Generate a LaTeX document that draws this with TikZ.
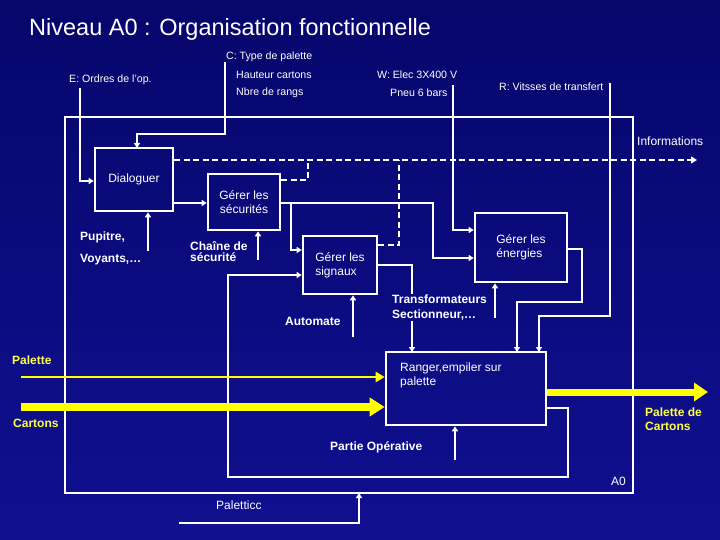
\documentclass[tikz,border=0pt]{standalone}
\usepackage{fontspec}
\setmainfont{Liberation Sans}
\usetikzlibrary{arrows.meta}
\definecolor{bgtop}{RGB}{6,6,108}
\definecolor{bgbot}{RGB}{16,16,145}
\definecolor{bgmid}{RGB}{11,11,128}
\definecolor{ylw}{RGB}{255,255,0}
\definecolor{ytxt}{RGB}{255,255,70}
\tikzset{
  box/.style={draw=white, line width=2.6pt, inner sep=0pt},
  ln/.style={draw=white, line width=1.4pt},
  arr/.style={ln, -{Triangle[length=5pt,width=6pt]}},
  dsh/.style={draw=white, line width=1.7pt, dash pattern=on 6pt off 3.5pt},
  lbl/.style={text=white, font=\fontsize{10.6}{12}\selectfont, inner sep=0pt, anchor=west},
  btxt/.style={text=white, font=\fontsize{12}{14}\selectfont, inner sep=0pt},
  bl/.style={text=white, font=\bfseries\fontsize{12}{14}\selectfont, inner sep=0pt, anchor=west, align=left},
  yl/.style={text=ytxt, font=\bfseries\fontsize{12}{14}\selectfont, inner sep=0pt, anchor=west, align=left},
  pl/.style={text=white, font=\fontsize{12}{14}\selectfont, inner sep=0pt, anchor=west},
}
\begin{document}
\begin{tikzpicture}[x=1pt,y=-1pt]
\shade[top color=bgtop, bottom color=bgbot] (0,0) rectangle (720,540);
\useasboundingbox (0,0) rectangle (720,540);

\node[text=white, font=\fontsize{23.5}{27}\selectfont, anchor=west, inner sep=0pt] (title) at (29,29) {Niveau A0 : Organisation fonctionnelle};

% main frame
\node[box, minimum width=568pt, minimum height=376pt] (frame) at (349,305) {};
\node[pl] (a0) at (611,481) {A0};

% activity boxes
\node[box, minimum width=78pt, minimum height=63pt, btxt] (dlg) at (134,179.5) {Dialoguer};
\node[box, minimum width=72pt, minimum height=56pt, btxt, align=center] (sec) at (244,202) {Gérer les\\sécurités};
\node[box, minimum width=74pt, minimum height=58pt, btxt, align=left] (sig) at (340,265) {Gérer les\\signaux};
\node[box, minimum width=92pt, minimum height=69pt, btxt, align=left] (ene) at (521,247.5) {Gérer les\\énergies};
\node[box, minimum width=160pt, minimum height=73pt] (rng) at (466,388.5) {};
\node[text=white, font=\fontsize{12}{13.5}\selectfont, inner sep=0pt, anchor=north west, align=left] (rngt) at (400,363) {Ranger,empiler sur\\palette};

% top labels
\node[lbl] (lc) at (226,57) {C: Type de palette};
\node[lbl] (lc2) at (236,75) {Hauteur cartons};
\node[lbl] (lc3) at (236,93) {Nbre de rangs};
\node[lbl] (le) at (69,80) {E: Ordres de l'op.};
\node[lbl] (lw) at (377,75) {W: Elec 3X400 V};
\node[lbl] (lw2) at (390,93) {Pneu 6 bars};
\node[lbl] (lr) at (499,87) {R: Vitsses de transfert};
\node[pl] (info) at (637,141) {Informations};

% coordinates for free ends
\coordinate (cS) at (225,62);
\coordinate (eS) at (80,88);
\coordinate (wS) at (453,85);
\coordinate (rS) at (610,83);
\coordinate (infoE) at (697,160);

% controls
\draw[arr] (eS) -- (80,181) -- (dlg.west |- 0,181);
\draw[arr] (cS) -- (225,134) -- (137,134) -- (137,148);
\draw[arr] (wS) -- (453,230) -- (ene.west |- 0,230);
\draw[arr] (rS) -- (610,316) -- (539,316) -- (539,352);

% dashed information flows
\draw[dsh, -{Triangle[length=6pt,width=7pt]}] (dlg.east |- 0,160) -- (infoE);
\draw[dsh] (sec.east |- 0,180) -- (308,180) -- (308,160);
\draw[dsh] (sig.east |- 0,245) -- (399,245) -- (399,160);

% internal flows
\draw[arr] (dlg.east |- 0,203) -- (sec.west |- 0,203);
\draw[arr] (sec.east |- 0,203) -- (433,203) -- (433,258) -- (ene.west |- 0,258);
\draw[arr] (291,203) -- (291,250) -- (sig.west |- 0,250);
\draw[arr] (rng.east |- 0,408) -- (568,408) -- (568,477) -- (228,477) -- (228,275) -- (sig.west |- 0,275);
\draw[arr] (ene.east |- 0,249) -- (582,249) -- (582,302) -- (517,302) -- (517,352);
\draw[arr] (sig.east |- 0,265) -- (412,265) -- (412,352);

% mechanisms
\coordinate (m1) at (148,251);
\coordinate (m2) at (258,260);
\coordinate (m3) at (353,337);
\coordinate (m4) at (495,318);
\coordinate (m5) at (455,460);
\draw[arr] (m1) -- (dlg.south -| m1);
\draw[arr] (m2) -- (sec.south -| m2);
\draw[arr] (m3) -- (sig.south -| m3);
\draw[arr] (m4) -- (ene.south -| m4);
\draw[arr] (m5) -- (rng.south -| m5);
\coordinate (pS) at (179,523);
\draw[arr] (pS) -- (359,523) -- (359,493);

% bold labels
\node[bl] (pup) at (80,237) {Pupitre,};
\node[bl] (voy) at (80,260) {Voyants,…};
\node[bl, font=\bfseries\fontsize{12}{10.5}\selectfont] (chs) at (190,251.5) {Chaîne de\\sécurité};
\node[bl] (aut) at (285,321) {Automate};
\node[bl, fill=bgmid, inner sep=1pt, font=\bfseries\fontsize{12}{15}\selectfont] (trs) at (391,307.5) {Transformateurs\\Sectionneur,…};
\node[bl] (po) at (330,447) {Partie Opérative};
\node[pl] (plc) at (216,505) {Paletticc};

% yellow flows
\coordinate (palS) at (21,377);
\coordinate (carS) at (21,407);
\coordinate (outE) at (708,392);
\draw[ylw, line width=2.6pt, -{Triangle[length=9pt,width=10pt]}] (palS) -- (rng.west |- 0,377);
\draw[ylw, line width=7.5pt, -{Triangle[length=15pt,width=18pt]}] (carS) -- (rng.west |- 0,407);
\draw[ylw, line width=7pt, -{Triangle[length=14pt,width=18pt]}] (rng.east |- 0,392) -- (outE);
\node[yl] (lpal) at (12,360) {Palette};
\node[yl] (lcar) at (13,423) {Cartons};
\node[yl] (lpc) at (645,419) {Palette de\\Cartons};
\end{tikzpicture}
\end{document}
